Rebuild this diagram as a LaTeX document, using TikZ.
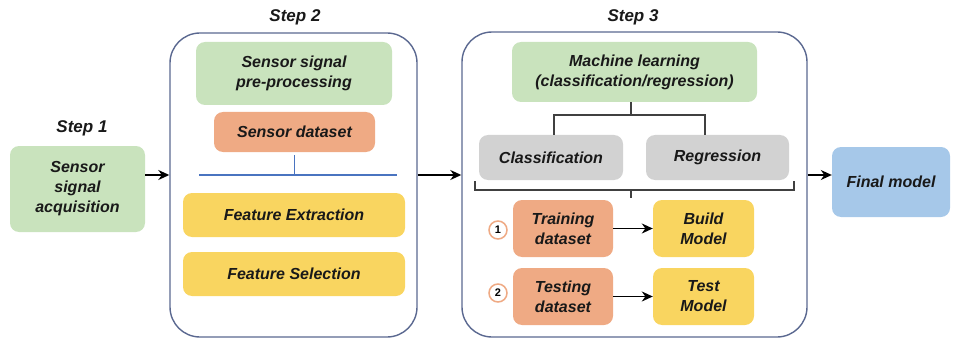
\documentclass[tikz,border=0pt]{standalone}
\usepackage{fontspec}
\setmainfont{Liberation Sans}
\usetikzlibrary{arrows.meta}

\definecolor{boxgreen}{HTML}{C9E3BD}
\definecolor{boxorange}{HTML}{EFAA84}
\definecolor{boxyellow}{HTML}{F9D560}
\definecolor{boxgray}{HTML}{D2D2D2}
\definecolor{boxblue}{HTML}{A6C8E9}
\definecolor{frameblue}{HTML}{5A6890}
\definecolor{lineblue}{HTML}{4A74C0}

\tikzset{
  blk/.style={rounded corners=9pt, align=center, inner sep=2pt,
    font=\fontsize{16}{20}\selectfont\bfseries\itshape, text=black!90},
  greenblk/.style={blk, fill=boxgreen},
  orangeblk/.style={blk, fill=boxorange},
  yellowblk/.style={blk, fill=boxyellow},
  grayblk/.style={blk, fill=boxgray},
  blueblk/.style={blk, fill=boxblue},
  stage/.style={draw=frameblue, line width=1.4pt, rounded corners=30pt},
  steplbl/.style={font=\fontsize{17}{20}\selectfont\bfseries\itshape, text=black!90},
  nummark/.style={circle, draw=boxorange, line width=1.5pt, fill=white, inner sep=0pt,
    minimum size=18pt, font=\fontsize{11}{11}\selectfont\bfseries},
  tree/.style={black!75, line width=1.8pt},
  flow/.style={->, line width=1.6pt},
}

\begin{document}
\begin{tikzpicture}[x=1pt, y=-1pt, >={Stealth[length=11pt,width=10pt]}]
  \useasboundingbox (0,0) rectangle (958,342);

  % the two stage frames
  \node[stage, minimum width=247, minimum height=304] (s2) at (293.5,185) {};
  \node[stage, minimum width=345, minimum height=305] (s3) at (634.5,184.5) {};

  \node[steplbl] (t1) at (82,128) {Step 1};
  \node[steplbl] (t2) at (295,17) {Step 2};
  \node[steplbl] (t3) at (633,17) {Step 3};

  % step 1
  \node[greenblk, minimum width=135, minimum height=86] (acq) at (77.5,189)
    {Sensor\\signal\\acquisition};

  % step 2
  \node[greenblk, minimum width=196, minimum height=63] (pre) at (294,73.5)
    {Sensor signal\\pre-processing};
  \node[orangeblk, minimum width=161, minimum height=40] (sds) at (294.5,132) {Sensor dataset};
  \node[yellowblk, minimum width=222, minimum height=44] (fext) at (294,215) {Feature Extraction};
  \node[yellowblk, minimum width=222, minimum height=44] (fsel) at (294,274) {Feature Selection};

  \coordinate (sl) at (199,175);
  \coordinate (sr) at (397,175);
  \draw[lineblue, line width=1.4pt] (sl) -- (sr);
  \draw[lineblue, line width=1.4pt] (sds.south) ++(0,3) -- (sds.south |- sl);

  % step 3
  \node[greenblk, minimum width=245, minimum height=60] (ml) at (634.5,72)
    {Machine learning\\(classification/regression)};
  \node[grayblk, minimum width=144, minimum height=45] (cls) at (551,157.5) {Classification};
  \node[grayblk, minimum width=143, minimum height=45] (reg) at (717.5,157.5) {Regression};

  \node[orangeblk, minimum width=100, minimum height=57] (trn) at (563,228.5) {Training\\dataset};
  \node[yellowblk, minimum width=101, minimum height=57] (bld) at (703.5,228.5) {Build\\Model};
  \node[orangeblk, minimum width=100, minimum height=57] (tst) at (563,296.5) {Testing\\dataset};
  \node[yellowblk, minimum width=101, minimum height=57] (tmd) at (703.5,296.5) {Test\\Model};

  \node[nummark] (n1) at (498,230) {1};
  \node[nummark] (n2) at (498,293) {2};

  \coordinate (fork) at (631,115);
  \draw[tree] (fork |- ml.south) -- (fork);
  \draw[tree] (554,135) |- (fork) -| (705,135);

  \coordinate (brl) at (475,181);
  \coordinate (brr) at (794,181);
  \draw[tree] (brl) -- (475,190) -- (794,190) -- (brr);
  \draw[black!75, line width=1.2pt] (631,190) -- (631,198);

  \draw[flow] (trn) -- (bld);
  \draw[flow] (tst) -- (tmd);

  % final
  \node[blueblk, minimum width=118, minimum height=70] (fin) at (891,182) {Final model};

  \coordinate (mid) at (0,175);
  \draw[flow] (acq.east |- mid) -- (s2.west |- mid);
  \draw[flow] (s2.east |- mid) -- (s3.west |- mid);
  \draw[flow] (s3.east |- mid) -- (fin.west |- mid);
\end{tikzpicture}
\end{document}
